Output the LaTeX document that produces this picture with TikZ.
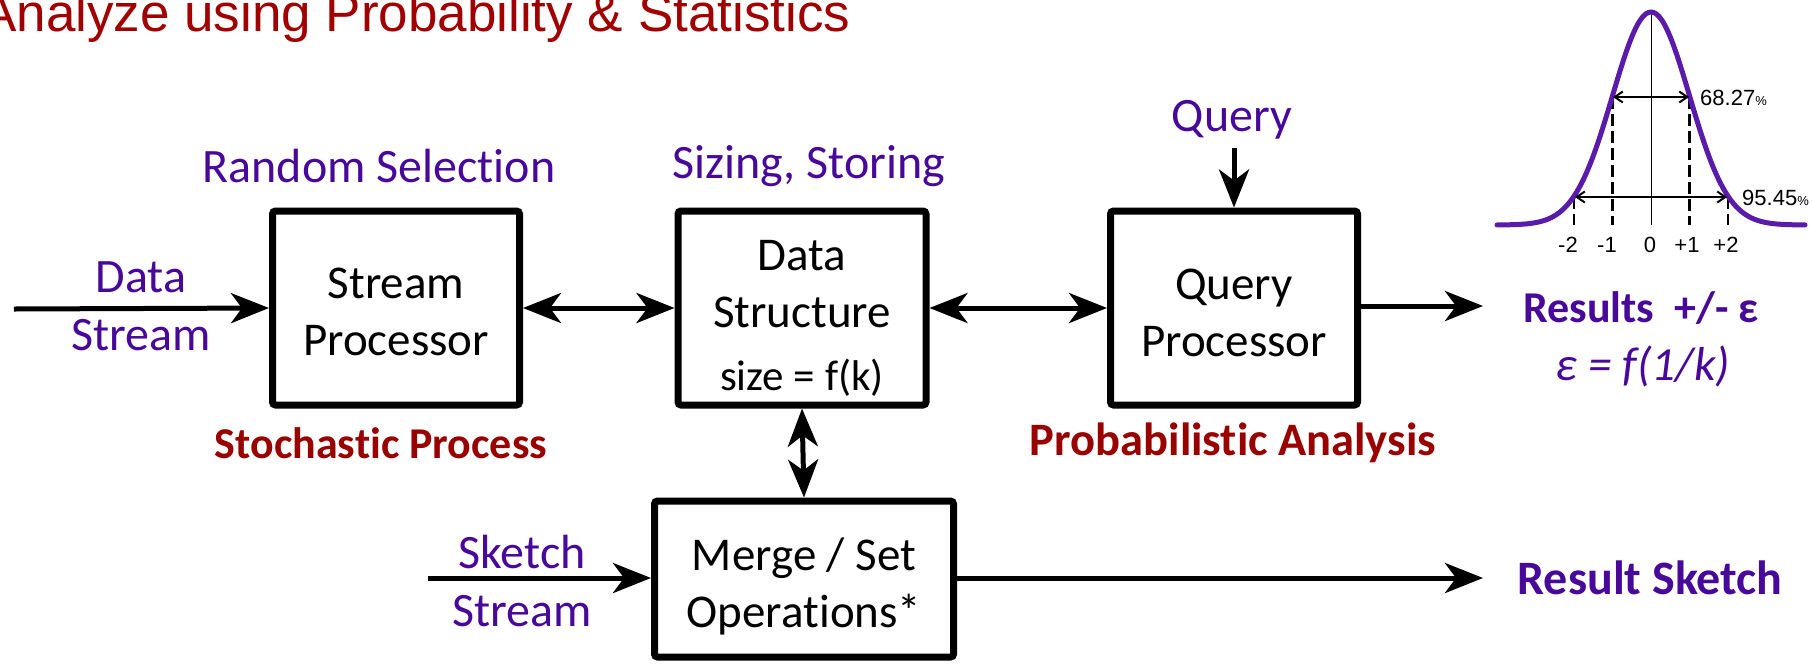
\documentclass[tikz,border=0pt]{standalone}
\usepackage{fontspec}
\setmainfont{Carlito}[Ligatures=NoCommon]
\newfontfamily\arialfont{Liberation Sans}
\usetikzlibrary{arrows.meta}

\definecolor{labelpurple}{HTML}{48089A}
\definecolor{curvepurple}{HTML}{5A1AAA}
\definecolor{darkred}{HTML}{990000}
\definecolor{titlered}{HTML}{A00000}

\newcommand\diagfont{\fontsize{47}{57}\selectfont}
\newcommand\notefont{\fontsize{48}{58}\selectfont}
\newcommand\sizefont{\fontsize{43}{52}\selectfont}
\newcommand\chartfont{\arialfont\fontsize{22}{26}\selectfont}
\newcommand\pctfont{\fontsize{13}{15}\selectfont}
% invisible strut that lowers the text block inside a box
\newcommand\lowerby[1]{\rule{0pt}{#1}}

\begin{document}
\begin{tikzpicture}[x=1pt,y=-1pt,
  >={Stealth[length=38pt,width=30pt,inset=11pt]},
  procbox/.style={draw, line width=7pt, rounded corners=3pt, align=center,
                  inner sep=0pt, font=\diagfont},
  flow/.style={line width=5pt, ->},
  twoway/.style={line width=5pt, <->},
  note/.style={text=labelpurple, align=center, font=\notefont, inner sep=0pt},
  topic/.style={text=darkred, inner sep=0pt},
  outcome/.style={text=labelpurple, inner sep=0pt},
  bell/.style={draw=curvepurple, line width=5pt, line cap=round},
  sigmaline/.style={line width=2.5pt, dash pattern=on 12pt off 5pt},
  spread/.style={line width=2pt,
    {Straight Barb[length=8pt,width=11pt]}-{Straight Barb[length=8pt,width=11pt]}},
  chartlabel/.style={font=\chartfont, inner sep=0pt}]

\useasboundingbox (0,0) rectangle (1812,665);

% heading
\node[anchor=base west, text=titlered, inner sep=0pt,
      font=\arialfont\fontsize{53}{60}\selectfont] (title) at (-19,31)
  {Analyze using Probability \& Statistics};

% processing blocks
\node[procbox, minimum width=247pt, minimum height=194pt] (sp) at (396,308)
  {\lowerby{39pt}Stream\\Processor};
\node[procbox, minimum width=248pt, minimum height=194pt] (ds) at (802,308)
  {\lowerby{50pt}Data\\Structure\\[6pt]{\sizefont size = f(k)}};
\node[procbox, minimum width=247pt, minimum height=194pt] (qp) at (1234,308)
  {\lowerby{40pt}Query\\Processor};
\node[procbox, minimum width=299pt, minimum height=156pt] (merge) at (804,579)
  {\lowerby{48pt}Merge / Set\\Operations*};

% labels around the blocks
\node[note] (dsin) at (141,306) {Data\\Stream};
\node[note] (skin) at (522,581) {Sketch\\Stream};
\node[note] (rand) at (379,166) {Random Selection};
\node[note] (size) at (809,166) {Sizing, Storing};
\node[note] (query) at (1232,120) {Query};
\node[topic, font=\fontsize{44}{52}\selectfont\bfseries] (stoch) at (381,443)
  {Stochastic Process};
\node[topic, font=\fontsize{46.5}{52}\selectfont\bfseries] (prob) at (1233,443)
  {Probabilistic Analysis};
\node[outcome, font=\fontsize{44}{52}\selectfont\bfseries] (res) at (1641,308)
  {Results\ \ +/- ε};
\node[outcome, font=\fontsize{47.5}{52}\selectfont\itshape] (eps) at (1643,366)
  {ε = f(1/k)};
\node[outcome, font=\fontsize{48}{52}\selectfont\bfseries] (rsk) at (1650,578)
  {Result Sketch};

% connectors
\coordinate (datain) at (14,309);
\coordinate (sketchin) at (428,578);
\coordinate (querytop) at (1234,148);
\coordinate (resout) at (1483,306);
\coordinate (sketchout) at (1483,578);

\draw[flow] (datain) -- (sp.west);
\draw[twoway] (sp.east) -- (ds.west);
\draw[twoway] (ds.east) -- (qp.west);
\draw[flow] (querytop) -- (qp.north);
\draw[flow] (qp.east |- resout) -- (resout);
\draw[twoway] (ds.south) -- (merge.north);
\draw[flow] (sketchin) -- (merge.west |- sketchin);
\draw[flow] (merge.east |- sketchout) -- (sketchout);

% normal distribution sketch
\draw[line width=1pt] (1651,12) -- (1651,225);
\draw[sigmaline] (1612.5,97) -- (1612.5,225);
\draw[sigmaline] (1689.5,97) -- (1689.5,225);
\draw[sigmaline] (1574,197) -- (1574,225);
\draw[sigmaline] (1728,197) -- (1728,225);
\draw[bell] plot[domain=-4:4, samples=121, smooth]
  ({1651+38.5*\x}, {225-213*exp(-0.5*\x*\x)});
\draw[spread] (1613,97) -- (1689,97);
\draw[spread] (1575,197) -- (1727,197);

\node[chartlabel, anchor=base west] (p1) at (1700,105) {68.27{\pctfont\%}};
\node[chartlabel, anchor=base west] (p2) at (1742,205) {95.45{\pctfont\%}};
\node[chartlabel, anchor=base] (am2) at (1568,252) {-2};
\node[chartlabel, anchor=base] (am1) at (1607,252) {-1};
\node[chartlabel, anchor=base] (a0) at (1650,252) {0};
\node[chartlabel, anchor=base] (ap1) at (1687,252) {+1};
\node[chartlabel, anchor=base] (ap2) at (1726,252) {+2};
\end{tikzpicture}
\end{document}
